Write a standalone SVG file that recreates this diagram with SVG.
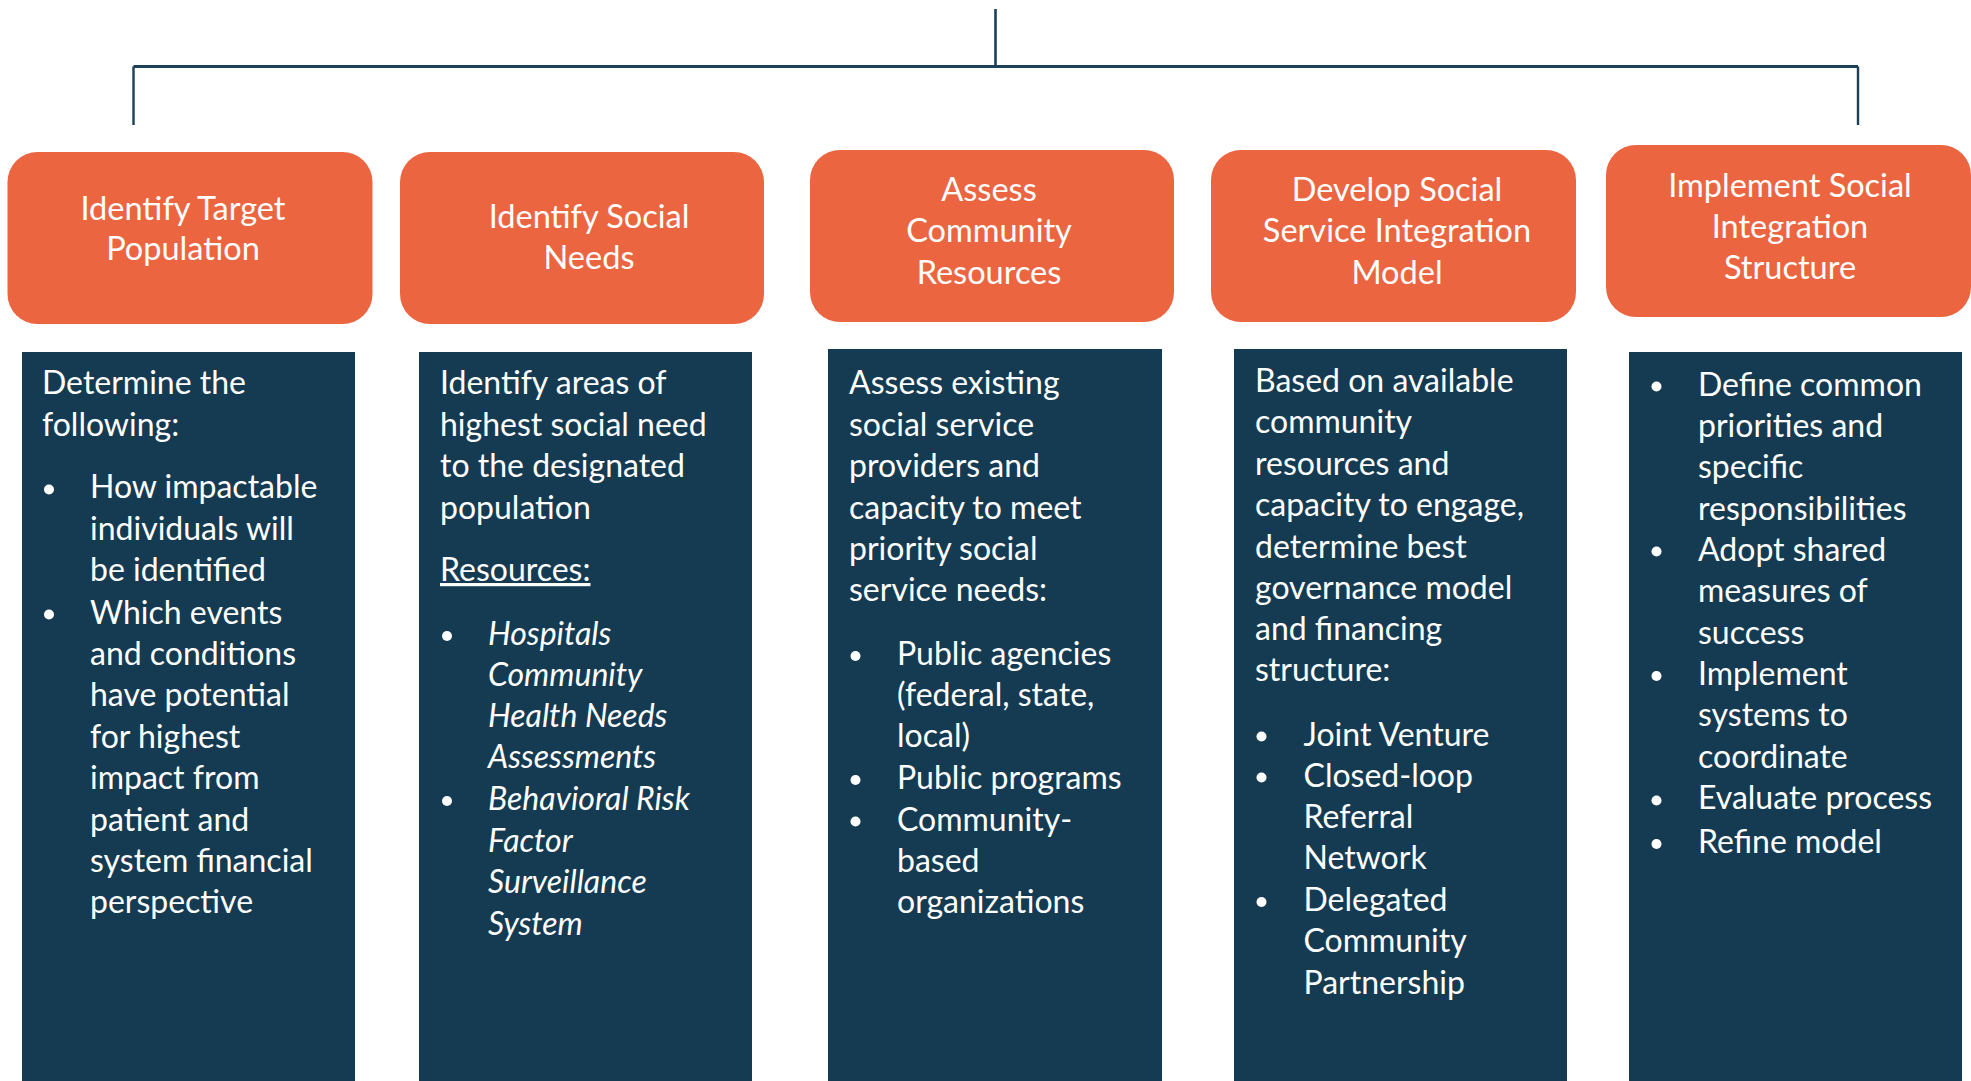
<svg xmlns="http://www.w3.org/2000/svg" width="1971" height="1081" viewBox="0 0 1971 1081">
<style>
.hd{fill:#EC6541}
.bx{fill:#153B53}
.ht{font-family:Lato,"Liberation Sans",sans-serif;font-size:32.5px;fill:#fff;text-anchor:middle}
.bt{font-family:Lato,"Liberation Sans",sans-serif;font-size:32px;fill:#fff}
.it{font-style:italic}
.dot{fill:#fff}
.ln{stroke:#1B4058;fill:none}
</style>
<rect width="1971" height="1081" fill="#fff"/>
<g id="connectors">
<path class="ln" d="M995.5 9 V66.5" stroke-width="2.6"/>
<path class="ln" d="M133.5 66.5 H1858" stroke-width="3.2"/>
<path class="ln" d="M133.5 66.5 V125 M1858 66.5 V125" stroke-width="2.4"/>
</g>
<g id="step1">
<rect class="hd" x="7.5" y="152" width="365" height="172" rx="30"/>
<text class="ht" x="183" y="220">Identify Target</text>
<text class="ht" x="183" y="260">Population</text>
</g>
<g id="step2">
<rect class="hd" x="400" y="152" width="364" height="172" rx="30"/>
<text class="ht" x="589" y="228">Identify Social</text>
<text class="ht" x="589" y="269">Needs</text>
</g>
<g id="step3">
<rect class="hd" x="810" y="150" width="364" height="172" rx="30"/>
<text class="ht" x="989" y="201">Assess</text>
<text class="ht" x="989" y="242">Community</text>
<text class="ht" x="989" y="284">Resources</text>
</g>
<g id="step4">
<rect class="hd" x="1211" y="150" width="365" height="172" rx="30"/>
<text class="ht" x="1397" y="201">Develop Social</text>
<text class="ht" x="1397" y="242">Service Integration</text>
<text class="ht" x="1397" y="284">Model</text>
</g>
<g id="step5">
<rect class="hd" x="1606" y="145" width="365" height="172" rx="30"/>
<text class="ht" x="1790" y="197">Implement Social</text>
<text class="ht" x="1790" y="238">Integration</text>
<text class="ht" x="1790" y="279">Structure</text>
</g>
<g id="detail1">
<rect class="bx" x="22" y="352" width="333" height="729"/>
<text class="bt" x="42" y="394">Determine the</text>
<text class="bt" x="42" y="435.5">following:</text>
<circle class="dot" cx="49" cy="489.5" r="5"/>
<circle class="dot" cx="49" cy="614.5" r="5"/>
<text class="bt" x="90" y="498">How impactable</text>
<text class="bt" x="90" y="539.5">individuals will</text>
<text class="bt" x="90" y="581">be identified</text>
<text class="bt" x="90" y="623.5">Which events</text>
<text class="bt" x="90" y="665">and conditions</text>
<text class="bt" x="90" y="706">have potential</text>
<text class="bt" x="90" y="747.5">for highest</text>
<text class="bt" x="90" y="789">impact from</text>
<text class="bt" x="90" y="830.5">patient and</text>
<text class="bt" x="90" y="872">system financial</text>
<text class="bt" x="90" y="913">perspective</text>
</g>
<g id="detail2">
<rect class="bx" x="419" y="352" width="333" height="729"/>
<text class="bt" x="440" y="394">Identify areas of</text>
<text class="bt" x="440" y="435.5">highest social need</text>
<text class="bt" x="440" y="477">to the designated</text>
<text class="bt" x="440" y="518.5">population</text>
<text class="bt" x="440" y="581" text-decoration="underline">Resources:</text>
<circle class="dot" cx="447" cy="636" r="5"/>
<circle class="dot" cx="447" cy="801" r="5"/>
<text class="bt it" x="488" y="645">Hospitals</text>
<text class="bt it" x="488" y="685.5">Community</text>
<text class="bt it" x="488" y="727">Health Needs</text>
<text class="bt it" x="488" y="768">Assessments</text>
<text class="bt it" x="488" y="810">Behavioral Risk</text>
<text class="bt it" x="488" y="852">Factor</text>
<text class="bt it" x="488" y="893">Surveillance</text>
<text class="bt it" x="488" y="934.5">System</text>
</g>
<g id="detail3">
<rect class="bx" x="828" y="349" width="334" height="732"/>
<text class="bt" x="849" y="394">Assess existing</text>
<text class="bt" x="849" y="436">social service</text>
<text class="bt" x="849" y="477">providers and</text>
<text class="bt" x="849" y="518.5">capacity to meet</text>
<text class="bt" x="849" y="560">priority social</text>
<text class="bt" x="849" y="601">service needs:</text>
<circle class="dot" cx="855.5" cy="656" r="5"/>
<circle class="dot" cx="855.5" cy="780" r="5"/>
<circle class="dot" cx="855.5" cy="821.5" r="5"/>
<text class="bt" x="897" y="665">Public agencies</text>
<text class="bt" x="897" y="706">(federal, state,</text>
<text class="bt" x="897" y="747">local)</text>
<text class="bt" x="897" y="789">Public programs</text>
<text class="bt" x="897" y="830.5">Community-</text>
<text class="bt" x="897" y="872">based</text>
<text class="bt" x="897" y="913">organizations</text>
</g>
<g id="detail4">
<rect class="bx" x="1234" y="349" width="333" height="732"/>
<text class="bt" x="1255" y="392">Based on available</text>
<text class="bt" x="1255" y="433">community</text>
<text class="bt" x="1255" y="474.5">resources and</text>
<text class="bt" x="1255" y="516">capacity to engage,</text>
<text class="bt" x="1255" y="557.5">determine best</text>
<text class="bt" x="1255" y="598.5">governance model</text>
<text class="bt" x="1255" y="640">and financing</text>
<text class="bt" x="1255" y="681">structure:</text>
<circle class="dot" cx="1261.5" cy="736.5" r="5"/>
<circle class="dot" cx="1261.5" cy="777.5" r="5"/>
<circle class="dot" cx="1261.5" cy="902" r="5"/>
<text class="bt" x="1303.5" y="745.5">Joint Venture</text>
<text class="bt" x="1303.5" y="786.5">Closed-loop</text>
<text class="bt" x="1303.5" y="828">Referral</text>
<text class="bt" x="1303.5" y="869">Network</text>
<text class="bt" x="1303.5" y="911">Delegated</text>
<text class="bt" x="1303.5" y="952">Community</text>
<text class="bt" x="1303.5" y="993.5">Partnership</text>
</g>
<g id="detail5">
<rect class="bx" x="1629" y="352" width="333" height="729"/>
<circle class="dot" cx="1656.5" cy="386.5" r="5"/>
<circle class="dot" cx="1656.5" cy="551.5" r="5"/>
<circle class="dot" cx="1656.5" cy="676" r="5"/>
<circle class="dot" cx="1656.5" cy="800.5" r="5"/>
<circle class="dot" cx="1656.5" cy="844" r="5"/>
<text class="bt" x="1698" y="396">Define common</text>
<text class="bt" x="1698" y="437">priorities and</text>
<text class="bt" x="1698" y="478">specific</text>
<text class="bt" x="1698" y="519.5">responsibilities</text>
<text class="bt" x="1698" y="560.5">Adopt shared</text>
<text class="bt" x="1698" y="602">measures of</text>
<text class="bt" x="1698" y="643.5">success</text>
<text class="bt" x="1698" y="685">Implement</text>
<text class="bt" x="1698" y="726">systems to</text>
<text class="bt" x="1698" y="767.5">coordinate</text>
<text class="bt" x="1698" y="809">Evaluate process</text>
<text class="bt" x="1698" y="853">Refine model</text>
</g>
</svg>
